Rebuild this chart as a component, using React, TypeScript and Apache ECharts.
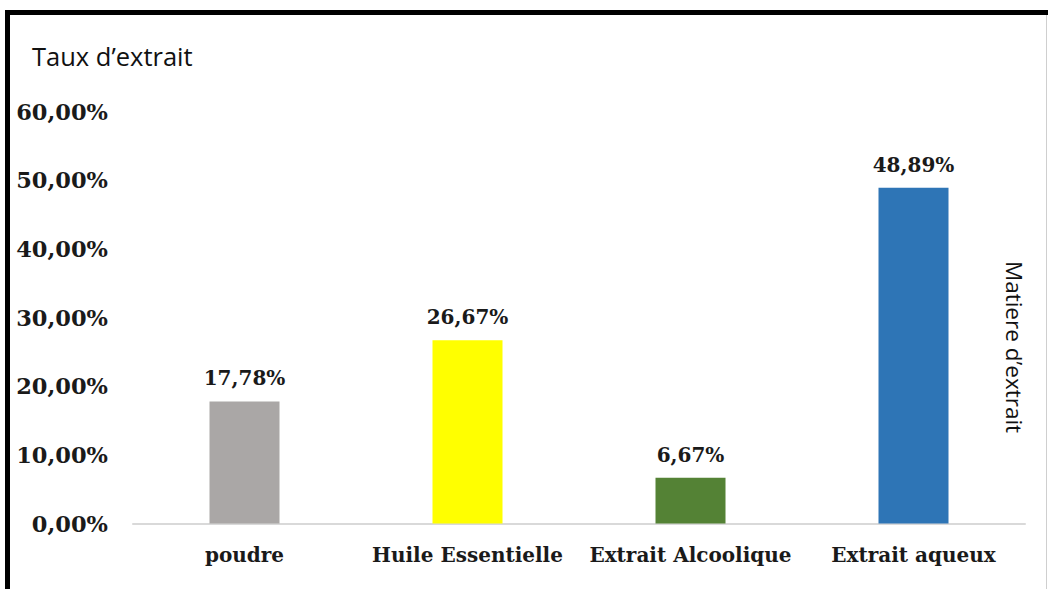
import React, { useEffect, useRef } from "react";
import * as echarts from "echarts";

const categories = ["poudre", "Huile Essentielle", "Extrait Alcoolique", "Extrait aqueux"];
const values = [17.78, 26.67, 6.67, 48.89];
const barColors = ["#AAA7A6", "#FFFF00", "#548235", "#2E75B6"];
const yTicks = [0, 10, 20, 30, 40, 50, 60];

const fmt = (v: number) => v.toFixed(2).replace(".", ",") + "%";

export default function App() {
  const ref = useRef<HTMLDivElement>(null);
  useEffect(() => {
    if (!ref.current) return;
    const chart = echarts.init(ref.current, null, { renderer: "svg" });
    const serif = "'DejaVu Serif', 'Liberation Serif', serif";
    chart.setOption({
      animation: false,
      backgroundColor: "#ffffff",
      title: {
        text: "Taux d\u2019extrait",
        left: 32,
        top: 41,
        padding: 0,
        textStyle: {
          fontFamily: "'Open Sans', 'Noto Sans', sans-serif",
          fontSize: 25.5,
          fontWeight: "normal",
          color: "#111",
          lineHeight: 30,
        },
      },
      grid: { left: 133, right: 23, top: 111.5, bottom: 65.5, containLabel: false },
      xAxis: {
        type: "category",
        data: categories,
        axisLine: { show: true, lineStyle: { color: "#d9d9d9", width: 2 } },
        axisTick: { show: false },
        axisLabel: {
          margin: 21,
          fontFamily: serif,
          fontWeight: "bold",
          fontSize: 20,
          lineHeight: 20,
          color: "#1a1a1a",
          interval: 0,
        },
      },
      yAxis: {
        type: "value",
        min: yTicks[0],
        max: yTicks[yTicks.length - 1],
        interval: 10,
        axisLine: { show: false },
        axisTick: { show: false },
        splitLine: { show: false },
        axisLabel: {
          margin: 25,
          fontFamily: serif,
          fontWeight: "bold",
          fontSize: 22.5,
          color: "#1a1a1a",
          formatter: (v: number) => fmt(v),
        },
      },
      series: [
        {
          type: "bar",
          barWidth: 70,
          data: values.map((v, i) => ({ value: v, itemStyle: { color: barColors[i] } })),
          label: {
            show: true,
            position: "top",
            distance: 13,
            fontFamily: serif,
            fontWeight: "bold",
            fontSize: 20,
            lineHeight: 20,
            color: "#1a1a1a",
            formatter: (p: any) => fmt(p.value),
          },
        },
      ],
      graphic: [
        {
          type: "line",
          shape: { x1: 5, y1: 12.5, x2: 1048, y2: 12.5 },
          style: { stroke: "#000", lineWidth: 5 },
        },
        {
          type: "line",
          shape: { x1: 7.5, y1: 10, x2: 7.5, y2: 589 },
          style: { stroke: "#000", lineWidth: 5 },
        },
        {
          type: "line",
          shape: { x1: 1046.5, y1: 15, x2: 1046.5, y2: 589 },
          style: { stroke: "#cfcfcf", lineWidth: 1 },
        },
        {
          type: "text",
          x: 1014,
          y: 347,
          rotation: -Math.PI / 2,
          style: {
            text: "Matiere d\u2019extrait",
            fontFamily: "'Open Sans', 'Noto Sans', sans-serif",
            fontSize: 22.5,
            fill: "#111",
            align: "center",
            verticalAlign: "middle",
          },
        },
      ],
    });
    return () => chart.dispose();
  }, []);
  return (
    <div
      ref={ref}
      style={{ position: "fixed", left: 0, top: 0, width: 1048, height: 589 }}
    />
  );
}
